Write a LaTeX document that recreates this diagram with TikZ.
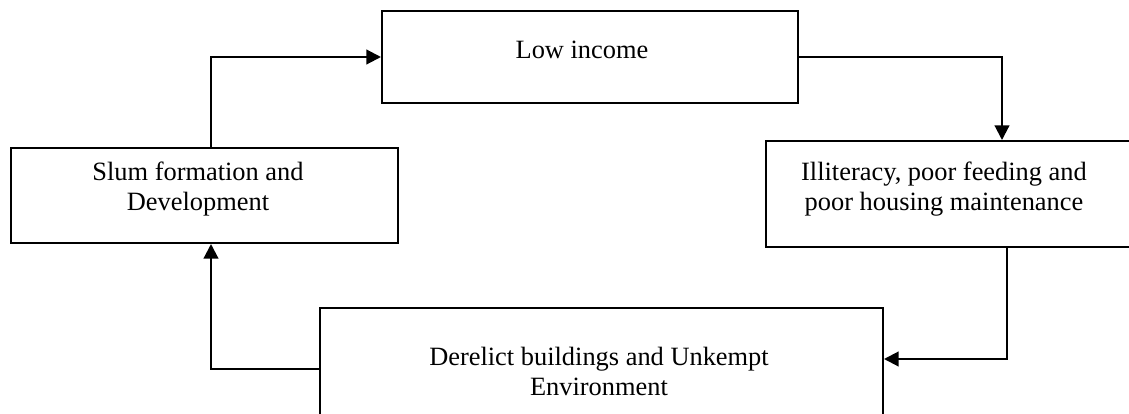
\documentclass[tikz,border=0pt]{standalone}
\usepackage{fontspec}
\setmainfont{Liberation Serif}
\usetikzlibrary{arrows.meta}

\begin{document}
\begin{tikzpicture}[x=0.75pt,y=-0.75pt]
\tikzstyle{box}=[draw, line width=1.5pt, inner sep=0pt]
\tikzstyle{txt}=[inner sep=0pt, align=center, anchor=base, font=\fontsize{19.8}{22.5}\selectfont]
\tikzstyle{link}=[line width=1.6pt, -{Triangle[length=11pt,width=11pt]}]
\clip (0,0) rectangle (1129,414);
\useasboundingbox (0,0) rectangle (1129,414);
% boxes
\node [box, minimum width=312pt, minimum height=69pt] (low) at (590,57) {};
\node [box, minimum width=276.75pt, minimum height=79.5pt] (ill) at (950.5,194) {};
\node [box, minimum width=290.25pt, minimum height=71.25pt] (slum) at (204.5,195.5) {};
\node [box, minimum width=422.25pt, minimum height=91.5pt] (der) at (601.5,369) {};
% texts (base = last line)
\node [txt] (lowtxt) at (582,58) {Low income};
\node [txt] (illtxt) at (944,210) {Illiteracy, poor feeding and\\poor housing maintenance};
\node [txt] (slumtxt) at (198,210) {Slum formation and\\Development};
\node [txt] (dertxt) at (599,395) {Derelict buildings and Unkempt\\Environment};
% elbows
\coordinate (left) at (211,59);
\coordinate (topright) at (1002,59);
\coordinate (right) at (1007,359);
% connectors
\draw [link] (slum.north -| left) |- (low.west);
\draw [link] (low.east) -| (ill.north -| topright);
\draw [link] (ill.south -| right) |- (der.east |- right);
\draw [link] (der.west) -| (slum.south -| left);
\end{tikzpicture}
\end{document}
